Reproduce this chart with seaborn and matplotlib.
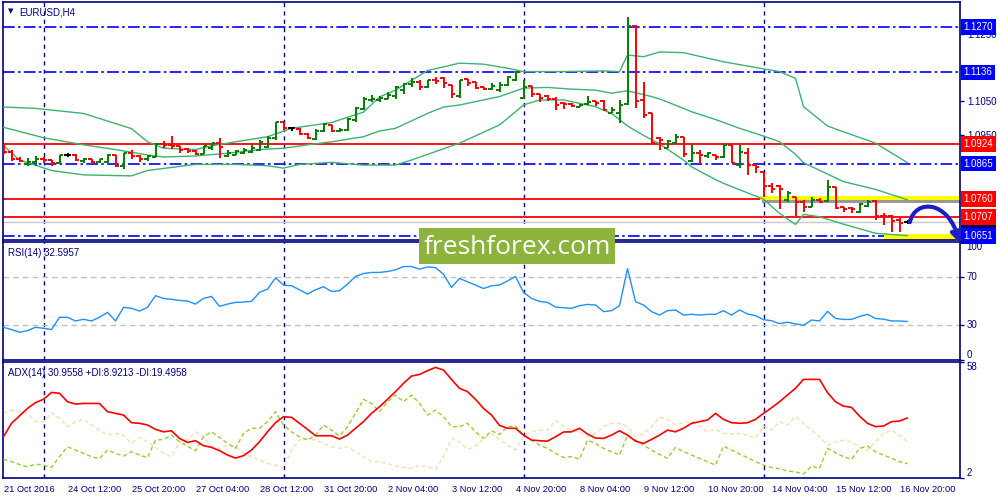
import matplotlib
matplotlib.use("Agg")
import matplotlib.pyplot as plt
import matplotlib.transforms as mtransforms
import matplotlib.patheffects as pe
from matplotlib.patches import Rectangle, FancyArrowPatch
from matplotlib.path import Path
import numpy as np
import pandas as pd
import seaborn as sns

sns.set_style("white")
plt.rcParams['font.family'] = ['Liberation Sans', 'DejaVu Sans']

# ---------------- data (EURUSD H4) ----------------
OPEN = [1.0912, 1.0901, 1.0878, 1.0864, 1.0870, 1.0878, 1.0876, 1.0866, 1.0891, 1.0891,
        1.0874, 1.0878, 1.0870, 1.0870, 1.0891, 1.0858, 1.0898, 1.0888, 1.0879, 1.0885,
        1.0923, 1.0921, 1.0918, 1.0909, 1.0903, 1.0894, 1.0912, 1.0926, 1.0888, 1.0891,
        1.0897, 1.0900, 1.0906, 1.0916, 1.0941, 1.0988, 1.0970, 1.0969, 1.0953, 1.0939,
        1.0962, 1.0980, 1.0962, 1.0965, 1.0996, 1.1027, 1.1054, 1.1054, 1.1057, 1.1066,
        1.1083, 1.1100, 1.1107, 1.1092, 1.1113, 1.1119, 1.1098, 1.1066, 1.1116, 1.1107,
        1.1092, 1.1086, 1.1083, 1.1098, 1.1113, 1.1060, 1.1095, 1.1071, 1.1066, 1.1057,
        1.1045, 1.1042, 1.1033, 1.1042, 1.1051, 1.1052, 1.1015, 1.1014, 1.1042, 1.1273,
        1.1054, 1.1014, 1.0941, 1.0912, 1.0926, 1.0944, 1.0873, 1.0896, 1.0888, 1.0891,
        1.0885, 1.0921, 1.0861, 1.0898, 1.0861, 1.0841, 1.0799, 1.0800, 1.0758, 1.0767,
        1.0752, 1.0737, 1.0758, 1.0755, 1.0795, 1.0737, 1.0735, 1.0721, 1.0741, 1.0755,
        1.0711, 1.0710, 1.0698, 1.0692]
HIGH = [1.0923, 1.0906, 1.0886, 1.0881, 1.0888, 1.0884, 1.0876, 1.0891, 1.0898, 1.0894,
        1.0882, 1.0878, 1.0880, 1.0893, 1.0891, 1.0898, 1.0906, 1.0891, 1.0891, 1.0926,
        1.0932, 1.0947, 1.0918, 1.0912, 1.0906, 1.0918, 1.0927, 1.0940, 1.0906, 1.0906,
        1.0911, 1.0921, 1.0935, 1.0947, 1.0990, 1.0990, 1.0975, 1.0970, 1.0957, 1.0967,
        1.0985, 1.0980, 1.0970, 1.1000, 1.1034, 1.1062, 1.1069, 1.1066, 1.1077, 1.1096,
        1.1103, 1.1120, 1.1113, 1.1113, 1.1123, 1.1123, 1.1098, 1.1113, 1.1116, 1.1108,
        1.1093, 1.1103, 1.1108, 1.1126, 1.1140, 1.1113, 1.1096, 1.1071, 1.1069, 1.1064,
        1.1047, 1.1044, 1.1041, 1.1066, 1.1052, 1.1054, 1.1034, 1.1054, 1.1301, 1.1276,
        1.1108, 1.1014, 1.0945, 1.0935, 1.0953, 1.0945, 1.0921, 1.0906, 1.0901, 1.0891,
        1.0923, 1.0921, 1.0921, 1.0911, 1.0861, 1.0841, 1.0807, 1.0802, 1.0785, 1.0767,
        1.0758, 1.0767, 1.0763, 1.0818, 1.0795, 1.0738, 1.0736, 1.0750, 1.0758, 1.0758,
        1.0718, 1.0713, 1.0704, 1.0698]
LOW = [1.0894, 1.0874, 1.0869, 1.0858, 1.0859, 1.0866, 1.0859, 1.0863, 1.0884, 1.0874,
       1.0866, 1.0864, 1.0866, 1.0866, 1.0854, 1.0849, 1.0880, 1.0871, 1.0873, 1.0884,
       1.0912, 1.0908, 1.0898, 1.0898, 1.0891, 1.0894, 1.0906, 1.0882, 1.0886, 1.0891,
       1.0894, 1.0898, 1.0904, 1.0911, 1.0935, 1.0965, 1.0961, 1.0951, 1.0937, 1.0935,
       1.0960, 1.0960, 1.0960, 1.0963, 1.0990, 1.1024, 1.1049, 1.1049, 1.1057, 1.1057,
       1.1073, 1.1093, 1.1083, 1.1090, 1.1100, 1.1090, 1.1059, 1.1061, 1.1096, 1.1085,
       1.1083, 1.1083, 1.1078, 1.1096, 1.1110, 1.1059, 1.1064, 1.1049, 1.1051, 1.1024,
       1.1027, 1.1032, 1.1032, 1.1040, 1.1036, 1.1021, 1.1014, 1.0986, 1.1040, 1.1029,
       1.1000, 1.0923, 1.0906, 1.0911, 1.0926, 1.0886, 1.0871, 1.0863, 1.0881, 1.0876,
       1.0881, 1.0866, 1.0852, 1.0832, 1.0837, 1.0767, 1.0777, 1.0730, 1.0753, 1.0709,
       1.0723, 1.0736, 1.0748, 1.0753, 1.0730, 1.0723, 1.0718, 1.0720, 1.0738, 1.0698,
       1.0685, 1.0663, 1.0663, 1.0686]
CLOSE = [1.0901, 1.0878, 1.0872, 1.0871, 1.0878, 1.0876, 1.0866, 1.0891, 1.0891, 1.0876,
         1.0879, 1.0869, 1.0880, 1.0891, 1.0858, 1.0896, 1.0888, 1.0878, 1.0888, 1.0923,
         1.0921, 1.0918, 1.0906, 1.0903, 1.0894, 1.0918, 1.0926, 1.0915, 1.0897, 1.0903,
         1.0906, 1.0913, 1.0930, 1.0940, 1.0988, 1.0970, 1.0970, 1.0953, 1.0940, 1.0963,
         1.0982, 1.0962, 1.0965, 1.0997, 1.1029, 1.1056, 1.1058, 1.1059, 1.1069, 1.1093,
         1.1100, 1.1106, 1.1093, 1.1113, 1.1110, 1.1103, 1.1071, 1.1113, 1.1103, 1.1090,
         1.1086, 1.1096, 1.1098, 1.1123, 1.1138, 1.1092, 1.1071, 1.1059, 1.1056, 1.1040,
         1.1041, 1.1036, 1.1040, 1.1049, 1.1046, 1.1024, 1.1024, 1.1040, 1.1273, 1.1052,
         1.1009, 1.0926, 1.0935, 1.0933, 1.0945, 1.0894, 1.0896, 1.0891, 1.0897, 1.0886,
         1.0921, 1.0868, 1.0901, 1.0861, 1.0856, 1.0799, 1.0790, 1.0789, 1.0777, 1.0753,
         1.0736, 1.0758, 1.0753, 1.0795, 1.0733, 1.0730, 1.0730, 1.0746, 1.0753, 1.0710,
         1.0710, 1.0695, 1.0690, 1.0692]

# Bollinger bands (bar index -> price)
BB_UP_BARS = [0, 4, 10, 16, 18, 20, 24, 26, 29, 33, 36, 41, 45, 47, 49, 53, 57, 60, 63, 65,
              70, 75, 77, 78, 80, 82, 85, 90, 95, 97, 99, 100, 103, 104, 109, 113]
BB_UP = [1.1033, 1.1029, 1.1014, 1.0969, 1.0930, 1.0911, 1.0907, 1.0918, 1.0930, 1.0945,
         1.0970, 1.0987, 1.1018, 1.1063, 1.1083, 1.1141, 1.1163, 1.1160, 1.1148, 1.1138,
         1.1138, 1.1140, 1.1138, 1.1187, 1.1182, 1.1196, 1.1194, 1.1167, 1.1146, 1.1138,
         1.1118, 1.1034, 1.0977, 1.0968, 1.0926, 1.0868]
BB_MID_BARS = [0, 5, 10, 14, 18, 20, 24, 28, 32, 35, 38, 41, 45, 47, 49, 53, 55, 57, 62, 65,
               68, 71, 74, 76, 78, 81, 82, 85, 86, 89, 92, 95, 97, 99, 100, 105, 109, 113]
BB_MID = [1.0973, 1.0942, 1.0921, 1.0907, 1.0891, 1.0885, 1.0888, 1.0896, 1.0907, 1.0911,
          1.0921, 1.0930, 1.0945, 1.0962, 1.0970, 1.1014, 1.1033, 1.1039, 1.1064, 1.1089,
          1.1091, 1.1086, 1.1083, 1.1074, 1.1081, 1.1064, 1.1057, 1.1029, 1.1019, 1.0996,
          1.0970, 1.0947, 1.0930, 1.0893, 1.0868, 1.0812, 1.0789, 1.0758]
BB_LOW_BARS = [0, 2, 6, 10, 16, 18, 24, 29, 33, 35, 37, 41, 45, 49, 51, 57, 62, 64, 65, 67,
               70, 74, 76, 77, 78, 80, 82, 85, 86, 89, 90, 95, 97, 99, 100, 102, 105, 109, 113]
BB_LOW = [1.0919, 1.0876, 1.0845, 1.0832, 1.0829, 1.0845, 1.0863, 1.0863, 1.0859, 1.0852,
          1.0863, 1.0869, 1.0861, 1.0861, 1.0876, 1.0926, 1.0980, 1.1019, 1.1039, 1.1054,
          1.1054, 1.1034, 1.1014, 1.0996, 1.0977, 1.0949, 1.0924, 1.0876, 1.0856, 1.0818,
          1.0807, 1.0760, 1.0718, 1.0685, 1.0715, 1.0708, 1.0686, 1.0659, 1.0652]

RSI = [27.7, 25.8, 23.5, 24.9, 27.7, 26.9, 25.8, 36.2, 36.2, 33.1,
       34.5, 33.1, 36.2, 40.4, 33.1, 44.6, 43.8, 41.5, 44.6, 54.5,
       52.2, 51.4, 50.5, 50.0, 47.4, 52.2, 53.9, 45.5, 47.4, 48.8,
       49.1, 49.7, 57.3, 60.1, 69.6, 63.5, 62.9, 59.5, 55.9, 59.5,
       62.1, 58.1, 58.7, 64.3, 70.8, 73.3, 74.2, 74.2, 75.0, 76.4,
       79.2, 79.2, 77.0, 78.9, 78.3, 72.7, 61.5, 69.1, 66.3, 63.5,
       60.6, 62.9, 63.5, 67.0, 70.8, 57.3, 52.2, 49.7, 48.8, 44.9,
       44.3, 43.8, 46.0, 47.1, 46.6, 41.0, 41.8, 46.0, 77.5, 49.4,
       46.6, 41.0, 38.1, 41.8, 42.4, 38.1, 38.7, 38.1, 38.7, 38.7,
       41.8, 38.1, 42.4, 39.0, 37.6, 34.2, 33.3, 30.8, 32.0, 30.6,
       29.4, 33.9, 33.1, 41.2, 35.2, 34.4, 34.4, 36.9, 38.7, 35.2,
       34.6, 33.1, 33.1, 32.6]
ADX = [21.9, 28.4, 32.0, 35.6, 38.4, 40.0, 43.3, 42.9, 38.8, 37.7,
       38.0, 38.0, 38.0, 34.0, 33.2, 32.4, 28.7, 28.4, 27.6, 25.5,
       24.3, 24.8, 21.1, 19.2, 20.0, 17.6, 16.8, 15.2, 13.1, 11.6,
       12.8, 15.5, 19.5, 24.3, 28.7, 31.6, 31.3, 28.4, 25.5, 22.4,
       22.4, 22.4, 20.8, 22.7, 26.0, 29.2, 33.2, 36.4, 40.0, 43.7,
       47.7, 51.2, 52.0, 53.8, 55.4, 54.1, 49.6, 45.3, 43.7, 40.0,
       35.6, 32.4, 27.4, 26.0, 26.0, 22.7, 20.3, 20.0, 19.8, 21.9,
       24.2, 24.3, 26.0, 23.2, 21.3, 21.1, 22.7, 24.8, 22.7, 19.8,
       18.7, 20.6, 22.7, 25.1, 24.3, 26.0, 28.4, 29.2, 30.0, 33.2,
       30.3, 28.7, 28.4, 28.7, 30.3, 33.2, 35.9, 38.8, 42.1, 45.3,
       49.6, 49.6, 49.6, 43.2, 38.8, 36.7, 36.1, 31.9, 28.4, 26.8,
       27.1, 29.2, 29.5, 31.0]
PLUS_DI = [11.0, 9.9, 8.5, 7.4, 8.7, 8.2, 7.1, 12.3, 17.1, 15.5,
           13.9, 12.3, 11.3, 15.5, 13.9, 12.6, 14.7, 13.1, 11.8, 20.3,
           20.6, 22.7, 19.5, 17.4, 15.2, 21.9, 24.3, 21.6, 18.7, 16.3,
           23.5, 26.0, 26.0, 29.2, 34.0, 27.6, 24.3, 21.9, 20.3, 22.7,
           27.6, 25.1, 22.3, 26.8, 33.2, 40.0, 38.0, 34.0, 38.8, 42.1,
           38.8, 42.1, 38.0, 32.4, 34.8, 31.6, 26.8, 26.8, 28.4, 24.3,
           21.1, 24.8, 23.0, 26.8, 27.1, 22.7, 20.3, 17.9, 16.3, 13.9,
           11.9, 12.3, 11.1, 20.3, 18.7, 16.3, 14.7, 13.1, 22.7, 20.3,
           17.9, 15.5, 13.4, 11.5, 16.8, 14.7, 13.1, 11.5, 9.9, 8.2,
           17.4, 15.5, 13.6, 11.8, 9.9, 8.2, 7.1, 6.5, 5.3, 5.0,
           3.9, 7.8, 6.6, 16.3, 14.2, 12.3, 11.0, 16.3, 17.4, 14.7,
           13.1, 11.5, 9.9, 8.9]
MINUS_DI = [33.2, 34.8, 34.0, 33.2, 29.2, 29.2, 33.5, 30.8, 26.8, 29.2,
            30.3, 27.6, 25.1, 22.7, 23.5, 22.7, 18.7, 21.6, 19.5, 16.8,
            13.9, 12.3, 19.5, 20.3, 24.3, 21.9, 17.1, 16.3, 17.9, 17.4,
            13.9, 12.3, 10.7, 9.0, 8.2, 6.6, 15.5, 20.3, 21.1, 20.3,
            18.7, 17.1, 16.3, 17.1, 14.7, 12.3, 9.9, 9.9, 9.0, 7.8,
            7.1, 6.6, 8.2, 7.4, 6.1, 12.3, 21.1, 19.5, 15.8, 17.4,
            21.1, 23.5, 20.7, 17.9, 15.5, 21.9, 24.3, 25.1, 25.1, 29.7,
            27.1, 25.1, 24.3, 21.9, 23.5, 26.8, 28.4, 28.4, 26.8, 22.3,
            23.2, 26.8, 31.3, 30.3, 27.6, 28.7, 29.2, 27.1, 24.3, 25.5,
            23.5, 23.2, 23.5, 22.7, 21.1, 27.1, 25.1, 29.2, 27.6, 31.6,
            28.4, 25.1, 21.9, 17.9, 19.5, 20.3, 19.5, 16.8, 15.5, 19.5,
            23.5, 25.1, 22.7, 19.5]

DATE_LABELS = ["21 Oct 2016", "24 Oct 12:00", "25 Oct 20:00", "27 Oct 04:00", "28 Oct 12:00",
               "31 Oct 20:00", "2 Nov 04:00", "3 Nov 12:00", "4 Nov 20:00", "8 Nov 04:00",
               "9 Nov 12:00", "10 Nov 20:00", "14 Nov 04:00", "15 Nov 12:00", "16 Nov 20:00"]
DATE_LABEL_BARS = [0, 8, 16, 24, 32, 40, 48, 56, 64, 72, 80, 88, 96, 104, 112]
WEEK_SEPARATOR_BARS = [5, 35, 65, 95]
BLUE_LEVELS = [1.1270, 1.1136, 1.0865, 1.0651]
RED_LEVELS = [1.0924, 1.0760, 1.0707]
BID = 1.0692
PRICE_TICKS = [1.1250, 1.1150, 1.1050, 1.0950, 1.0850, 1.0750]
PRICE_TICK_LABELS = ["1.1250", "", "1.1050", "1.0950", "", ""]
RSI_LEVELS = [30, 70]

# ---------------- styling ----------------
NAVY = '#000080'
BLUE = '#0000ff'
RED = '#ff0000'
BULL = '#008000'
BB_COLOR = '#3cb371'
FS = 7

fig = plt.figure(figsize=(10, 5), dpi=100)
fig.patch.set_facecolor('white')
ax1 = fig.add_axes([0.0025, 0.52, 0.9575, 0.476])
ax2 = fig.add_axes([0.0025, 0.28, 0.9575, 0.236])
ax3 = fig.add_axes([0.0025, 0.044, 0.9575, 0.232])
XLIM = (-0.125, 119.56)

for ax in (ax1, ax2, ax3):
    ax.set_xlim(*XLIM)
    ax.set_facecolor('white')
    for s in ax.spines.values():
        s.set_color(NAVY)
        s.set_linewidth(1.2)
    ax.yaxis.tick_right()
    ax.tick_params(axis='y', colors=NAVY, labelcolor=NAVY, labelsize=FS,
                   length=3, width=1, direction='out', pad=2)
    for b in WEEK_SEPARATOR_BARS:
        ax.axvline(b, color=NAVY, lw=1, ls=(0, (3, 3)), zorder=1)

# ---------------- main price panel ----------------
n = len(CLOSE)
bars = np.arange(n)
df = pd.DataFrame({'bar': bars, 'open': OPEN, 'high': HIGH, 'low': LOW, 'close': CLOSE})
cols = [BULL if c > o else (RED if c < o else 'black') for o, c in zip(df['open'], df['close'])]

ax1.set_ylim(1.06391, 1.13441)
ax1.set_xticks([])
ax1.set_yticks(PRICE_TICKS)
ax1.set_yticklabels(PRICE_TICK_LABELS)

for lv in BLUE_LEVELS:
    ax1.axhline(lv, color=BLUE, lw=1.2, ls=(0, (7, 2, 1.5, 2)), zorder=2)
ax1.axhline(BID, color='#c8c8c8', lw=1, zorder=2)
for lv in RED_LEVELS:
    ax1.axhline(lv, color=RED, lw=1.3, zorder=2)

shadow = [pe.withSimplePatchShadow(offset=(2, -2), shadow_rgbFace='#555555', alpha=0.6), pe.Normal()]
r1 = Rectangle((94.5, 1.0757), 30, 0.0012, fc='#ffff00', ec='none', zorder=2.5)
r1.set_path_effects(shadow)
ax1.add_patch(r1)
r2 = Rectangle((110.0, 1.0636), 30, 0.0021, fc='#ffff00', ec='none', zorder=2.5)
r2.set_path_effects(shadow)
ax1.add_patch(r2)

for series, bx in ((BB_UP, BB_UP_BARS), (BB_MID, BB_MID_BARS), (BB_LOW, BB_LOW_BARS)):
    sns.lineplot(x=bx, y=series, ax=ax1, color=BB_COLOR, lw=1.0, zorder=3)

ax1.vlines(df['bar'], df['low'], df['high'], colors=cols, lw=1.4, zorder=4)
ax1.hlines(df['open'], df['bar'] - 0.4, df['bar'], colors=cols, lw=1.4, zorder=4)
ax1.hlines(df['close'], df['bar'], df['bar'] + 0.4, colors=cols, lw=1.4, zorder=4)

# forecast arrow from the last close
x0, y0 = n - 1 + 0.3, CLOSE[-1]
arrow_path = Path([(x0, y0), (x0 + 0.6, y0 + 0.0068), (x0 + 4.8, y0 + 0.0068), (x0 + 6.2, y0 - 0.0060)],
                  [Path.MOVETO, Path.CURVE4, Path.CURVE4, Path.CURVE4])
arrow = FancyArrowPatch(path=arrow_path, arrowstyle='-|>,head_length=6,head_width=3.5',
                        lw=2.6, color='#1c1cc8', clip_on=False, zorder=8)
arrow.set_path_effects([pe.withStroke(linewidth=3.5, foreground='#8080c0', alpha=0.3), pe.Normal()])
ax1.add_patch(arrow)

yx1 = mtransforms.blended_transform_factory(ax1.transAxes, ax1.transData)


def level_label(y, text, fc):
    ax1.text(1.0035, y, text, transform=yx1, ha='left', va='center', color='white',
             fontsize=FS, clip_on=False, zorder=10,
             bbox=dict(boxstyle='square,pad=0.28', fc=fc, ec='none'))


level_label(BID, f"{BID:.4f}", '#000060')
for lv in BLUE_LEVELS:
    level_label(lv, f"{lv:.4f}", BLUE)
for lv in RED_LEVELS:
    level_label(lv, f"{lv:.4f}", RED)

ax1.text(0.006, 0.975, "\u25bc", transform=ax1.transAxes, fontsize=5, color=NAVY, va='top', ha='left',
         family=['DejaVu Sans'])
ax1.text(0.018, 0.978, "EURUSD,H4", transform=ax1.transAxes, fontsize=FS, color=NAVY, va='top', ha='left')

# ---------------- RSI panel ----------------
ax2.set_ylim(0, 100)
ax2.set_xticks([])
ax2.set_yticks([0, 30, 70, 100])
ax2.set_yticklabels([])
for lv in RSI_LEVELS:
    ax2.axhline(lv, color='#c0c0c0', lw=1, ls=(0, (4, 3)), zorder=1)
sns.lineplot(x=bars, y=RSI, ax=ax2, color='#1e90ff', lw=1.0, zorder=3)
yx2 = mtransforms.blended_transform_factory(ax2.transAxes, ax2.transData)
for v, va in ((100, 'top'), (70, 'center'), (30, 'center'), (0, 'bottom')):
    ax2.text(1.007, v, str(v), transform=yx2, ha='left', va=va, fontsize=FS, color=NAVY, clip_on=False)
ax2.text(0.006, 0.95, "RSI(14) 32.5957", transform=ax2.transAxes,
         fontsize=FS, color=NAVY, va='top', ha='left')

# ---------------- ADX panel ----------------
ax3.set_ylim(2, 58)
ax3.set_yticks([2, 58])
ax3.set_yticklabels([])
sns.lineplot(x=bars, y=MINUS_DI, ax=ax3, color='#f5deb3', lw=1.0, ls=(0, (3, 2)), zorder=2)
sns.lineplot(x=bars, y=PLUS_DI, ax=ax3, color='#9acd32', lw=1.0, ls=(0, (3, 2)), zorder=3)
sns.lineplot(x=bars, y=ADX, ax=ax3, color=RED, lw=1.2, zorder=4)
yx3 = mtransforms.blended_transform_factory(ax3.transAxes, ax3.transData)
ax3.text(1.007, 58, "58", transform=yx3, ha='left', va='top', fontsize=FS, color=NAVY, clip_on=False)
ax3.text(1.007, 2, "2", transform=yx3, ha='left', va='bottom', fontsize=FS, color=NAVY, clip_on=False)
ax3.text(0.006, 0.95, "ADX(14) 30.9558 +DI:8.9213 -DI:19.4958", transform=ax3.transAxes,
         fontsize=FS, color=NAVY, va='top', ha='left')

ax3.set_xticks(DATE_LABEL_BARS)
ax3.set_xticklabels(DATE_LABELS)
ax3.tick_params(axis='x', colors=NAVY, labelcolor=NAVY, labelsize=6.7, length=3, width=1,
                direction='out', pad=2)
for lbl in ax3.get_xticklabels():
    lbl.set_ha('left')

for ax in (ax1, ax2, ax3):
    ax.set_xlabel('')
    ax.set_ylabel('')

# ---------------- watermark ----------------
fig.add_artist(Rectangle((0.419, 0.472), 0.196, 0.072, transform=fig.transFigure,
                         fc='#8db33c', ec='none', zorder=20))
fig.text(0.517, 0.506, "freshforex.com", ha='center', va='center', color='white',
         fontsize=19, family=['Open Sans', 'DejaVu Sans'], zorder=21)

fig.savefig("out.png", dpi=100, facecolor='white')
